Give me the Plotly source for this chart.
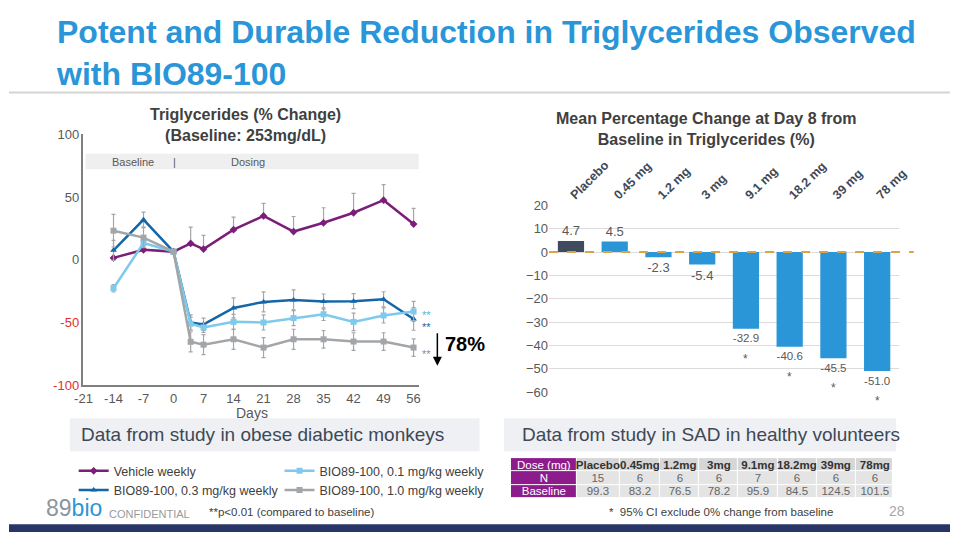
import plotly.graph_objects as go

# ---------------- data ----------------
days = [-14, -7, 0, 4, 7, 14, 21, 28, 35, 42, 49, 56]
vehicle = [1.5, 8, 6.5, 13, 8.5, 24, 35, 22.5, 29.5, 37.5, 47.5, 28.5]
vehicle_err = [0, 0, 0, 13, 11, 10, 10, 12, 12, 15.5, 12.5, 12.5]
dose01 = [-22.7, 13.4, 6.5, -51, -54, -49.5, -50, -46.5, -43.4, -49.5, -44.4, -41.2]
dose01_err = [3, 3, 0, 5, 4, 6, 6, 6, 5, 7, 6, 8]
dose03 = [7.5, 32, 6.5, -50, -51.5, -38.4, -33.6, -32, -33.3, -33, -31.5, -47.2]
dose03_err = [8, 6, 0, 6, 5, 8, 8, 8, 6, 6, 6, 9]
dose10 = [23.2, 17.7, 6.5, -65.4, -67.7, -63.4, -70, -63.4, -63.4, -65.2, -65.2, -70]
dose10_err = [13, 8, 0, 8, 8, 8, 8, 8, 7, 7, 7, 7]
left_ticks = [-21, -14, -7, 0, 7, 14, 21, 28, 35, 42, 49, 56]
left_yticks = [100, 50, 0, -50, -100]

bar_cats = ["Placebo", "0.45 mg", "1.2 mg", "3 mg", "9.1 mg", "18.2 mg", "39 mg", "78 mg"]
bar_vals = [4.7, 4.5, -2.3, -5.4, -32.9, -40.6, -45.5, -51.0]
bar_sig = [False, False, False, False, True, True, True, True]
right_yticks = [20, 10, 0, -10, -20, -30, -40, -50, -60]

tbl_rowhead = ["Dose (mg)", "N", "Baseline"]
tbl_dose = ["Placebo", "0.45mg", "1.2mg", "3mg", "9.1mg", "18.2mg", "39mg", "78mg"]
tbl_n = ["15", "6", "6", "6", "7", "6", "6", "6"]
tbl_base = ["99.3", "83.2", "76.5", "78.2", "95.9", "84.5", "124.5", "101.5"]

# ---------------- helpers ----------------
W, H = 960, 540
def px(x): return x / W
def py(y): return 1 - y / H

FONT = "Arial, Liberation Sans, sans-serif"
GRAY_TXT = "#595959"
PURPLE = "#7B1E7A"
DBLUE = "#1466A8"
LBLUE = "#7DCAEC"
LGRAY = "#A3A6A9"
BAR_BLUE = "#2A96D8"
PLACEBO = "#414B5F"
ERRC = "#A6A6A6"

fig = go.Figure()

def add_line(name, y, err, color, symbol, legend, minus=None):
    ey = dict(type="data", array=err, color=ERRC, thickness=1.2, width=2, visible=True)
    if minus is not None:
        ey["symmetric"] = False
        ey["arrayminus"] = minus
    fig.add_trace(go.Scatter(
        x=days, y=y, name=name, mode="lines+markers",
        line=dict(color=color, width=2.5),
        marker=dict(color=color, symbol=symbol, size=6),
        error_y=ey, xaxis="x", yaxis="y", legend=legend, cliponaxis=False))

add_line("Vehicle weekly", vehicle, vehicle_err, PURPLE, "diamond", "legend", minus=[0]*len(days))
add_line("BIO89-100, 0.3 mg/kg weekly", dose03, dose03_err, DBLUE, "triangle-up", "legend")
add_line("BIO89-100, 0.1 mg/kg weekly", dose01, dose01_err, LBLUE, "square", "legend2")
add_line("BIO89-100, 1.0 mg/kg weekly", dose10, dose10_err, LGRAY, "square", "legend2")

# right bar chart
fig.add_trace(go.Bar(
    x=bar_cats, y=bar_vals, xaxis="x2", yaxis="y2", showlegend=False,
    marker=dict(color=[PLACEBO] + [BAR_BLUE] * 7, line=dict(width=0)),
    texttemplate="%{y:.1f}", textposition="outside",
    textfont=dict(size=13, color=GRAY_TXT, family=FONT), cliponaxis=False))

# table drawn as a heatmap grid (variable column widths)
col_w = [67, 44, 41, 40, 40, 40, 40, 40, 38]
edges = [0]
for w in col_w:
    edges.append(edges[-1] + w)
PURP_T = "#8E1B8C"
HEAD_G = "#D6D6D6"
CELL_G = "#E4E4E4"
z = [[0] + [1] * 8, [0] + [2] * 8, [0] + [2] * 8]
txt = [["<span style='color:white'>%s</span>" % tbl_rowhead[0]] +
       ["<b><span style='color:#333333'>%s</span></b>" % d for d in tbl_dose],
       ["<span style='color:white'>%s</span>" % tbl_rowhead[1]] +
       ["<span style='color:#666666'>%s</span>" % v for v in tbl_n],
       ["<span style='color:white'>%s</span>" % tbl_rowhead[2]] +
       ["<span style='color:#666666'>%s</span>" % v for v in tbl_base]]
fig.add_trace(go.Heatmap(
    x=edges, y=[0, 1, 2], z=z, text=txt, texttemplate="%{text}",
    textfont=dict(family=FONT, size=11.5),
    colorscale=[[0, PURP_T], [0.5, HEAD_G], [1, CELL_G]], zmin=0, zmax=2,
    showscale=False, xgap=1, ygap=1, hoverinfo="skip", xaxis="x3", yaxis="y3"))

annotations = []
shapes = []

def note(x, y, text, size, color=GRAY_TXT, xanchor="center", family=FONT, **kw):
    d = dict(x=px(x), y=py(y), xref="paper", yref="paper", text=text, showarrow=False,
             xanchor=xanchor, yanchor="middle", font=dict(size=size, color=color, family=family))
    d.update(kw)
    annotations.append(d)

# stars under significant bars
for c, v, s in zip(bar_cats, bar_vals, bar_sig):
    if s:
        annotations.append(dict(x=c, y=v, xref="x2", yref="y2", text="*", showarrow=False,
                                xanchor="center", yshift=-30,
                                font=dict(size=12, color=GRAY_TXT, family=FONT)))

# zero dashed line on bar chart
shapes.append(dict(type="line", xref="paper", yref="y2", x0=px(551), x1=px(923), y0=0, y1=0,
                   line=dict(color="#D9A441", width=2, dash="dash"), layer="above"))

# baseline / dosing band
shapes.append(dict(type="rect", xref="paper", yref="paper", x0=px(78), x1=px(418),
                   y0=py(167), y1=py(151), fillcolor="#EFEFEF", line=dict(width=0), layer="below"))
note(126, 159, "Baseline", 11)
note(169, 159, "|", 11)
note(244, 159, "Dosing", 11)

# ** significance marks
for y, col in [(317, "#4FB8E6"), (329, DBLUE), (357, "#8A8E92")]:
    note(426, y, "**", 11, color=col)
# 78% with arrow
annotations.append(dict(x=px(437), y=py(369), ax=0, ay=-34, xref="paper", yref="paper",
                        axref="pixel", ayref="pixel", text="", showarrow=True, arrowhead=2,
                        arrowsize=1.2, arrowwidth=1.5, arrowcolor="black"))
note(443, 347, "<b>78%</b>", 20, color="black", xanchor="left")

# chart titles
note(241, 121, "<b>Triglycerides (% Change)<br>(Baseline: 253mg/dL)</b>", 16, color="#404040")
note(712, 125, "<b>Mean Percentage Change at Day 8 from<br>Baseline in Triglycerides (%)</b>", 16,
     color="#404040")
note(248, 418, "Days", 14)

# main title
note(46, 47, "<b>Potent and Durable Reduction in Triglycerides Observed<br>with BIO89-100</b>", 32,
     color="#2A96D8", xanchor="left", family="Liberation Sans Narrow, Arial Narrow, Arial", align="left")
shapes.append(dict(type="line", xref="paper", yref="paper", x0=0, x1=1, y0=py(88), y1=py(88),
                   line=dict(color="#D4D4D4", width=2)))

# data-from boxes
shapes.append(dict(type="rect", xref="paper", yref="paper", x0=px(62), x1=px(480), y0=py(457), y1=py(423),
                   fillcolor="#EEF0F3", line=dict(width=0), layer="below"))
shapes.append(dict(type="rect", xref="paper", yref="paper", x0=px(505), x1=px(905), y0=py(457), y1=py(423),
                   fillcolor="#EEF0F3", line=dict(width=0), layer="below"))
note(71, 440, "Data from study in obese diabetic monkeys", 19, color="#404856", xanchor="left")
note(521, 440, "Data from study in SAD in healthy volunteers", 19, color="#404856", xanchor="left")

# footer
note(36, 515, "<span style='color:#8C959E'>89</span><span style='color:#2A96D8'>bio</span>", 23,
     xanchor="left")
note(100, 521, "CONFIDENTIAL", 11, color="#9A9A9A", xanchor="left")
note(202, 519, "**p<0.01 (compared to baseline)", 11.5, color="#404040", xanchor="left")
note(610, 519, "*  95% CI exclude 0% change from baseline", 11.5, color="#404040", xanchor="left")
note(916, 518, "28", 14, color="#A6A6A6", xanchor="right")
shapes.append(dict(type="rect", xref="paper", yref="paper", x0=0, x1=1, y0=0, y1=py(532),
                   fillcolor="#283667", line=dict(width=0)))

left_ytext = []
for v in left_yticks:
    col = "#E0312B" if v < 0 else GRAY_TXT
    left_ytext.append("<span style='color:%s'>%d</span>" % (col, v))
left_xtext = [str(v) for v in left_ticks]

fig.update_layout(
    width=W, height=H, margin=dict(l=0, r=0, t=0, b=0), autosize=False,
    paper_bgcolor="white", plot_bgcolor="rgba(0,0,0,0)",
    font=dict(family=FONT, color=GRAY_TXT),
    xaxis=dict(domain=[px(76), px(418)], range=[-21, 57.2], tickvals=left_ticks, ticktext=left_xtext,
               showgrid=False, zeroline=False, showline=True, linecolor="#7F7F7F", linewidth=1.5,
               ticks="", tickfont=dict(size=13, color=GRAY_TXT), anchor="y"),
    yaxis=dict(domain=[py(389), py(131)], range=[-100, 100], tickvals=left_yticks, ticktext=left_ytext,
               showgrid=False, zeroline=False, showline=True, linecolor="#7F7F7F", linewidth=1.5,
               ticks="", tickfont=dict(size=13, color=GRAY_TXT), anchor="x"),
    xaxis2=dict(domain=[px(551), px(908)], side="top", tickangle=-45, anchor="y2",
                tickvals=bar_cats, ticktext=["<b>%s</b>" % c for c in bar_cats],
                tickfont=dict(size=12.5, color="#404856", family=FONT),
                showgrid=False, zeroline=False, showline=False, ticks=""),
    yaxis2=dict(domain=[py(396), py(204)], range=[-60, 20], tickvals=right_yticks, anchor="x2",
                showgrid=True, gridcolor="#DCDCDC", gridwidth=1, zeroline=False, showline=False,
                ticks="", tickfont=dict(size=13, color=GRAY_TXT)),
    xaxis3=dict(domain=[px(512), px(512 + edges[-1])], range=[0, edges[-1]], visible=False,
                anchor="y3", fixedrange=True),
    yaxis3=dict(domain=[py(505), py(464)], range=[2.5, -0.5], visible=False, anchor="x3",
                fixedrange=True),
    bargap=0.4,
    legend=dict(x=px(66), y=py(462), xanchor="left", yanchor="top", orientation="v",
                font=dict(size=12.5, color="#404040", family=FONT), bgcolor="rgba(0,0,0,0)",
                itemwidth=30, tracegroupgap=0),
    legend2=dict(x=px(276), y=py(462), xanchor="left", yanchor="top", orientation="v",
                 font=dict(size=12.5, color="#404040", family=FONT), bgcolor="rgba(0,0,0,0)",
                 itemwidth=30, tracegroupgap=0),
    annotations=annotations, shapes=shapes,
)

css_js = ("var s=document.createElement('style');"
          "s.innerHTML='html,body{margin:0 !important;padding:0 !important;}';"
          "document.head.appendChild(s);")
fig.write_html("out.html", post_script=css_js)
